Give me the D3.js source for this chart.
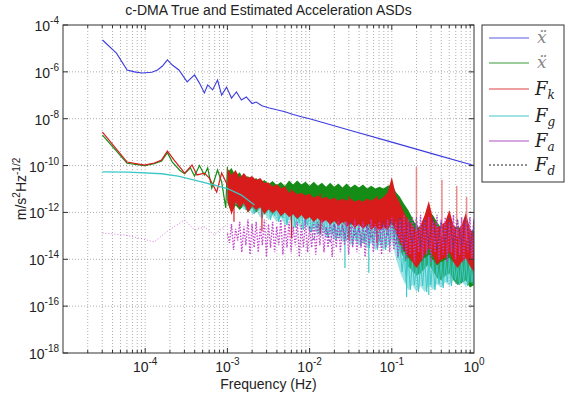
<!DOCTYPE html>
<html><head><meta charset="utf-8">
<script src="https://cdn.jsdelivr.net/npm/d3@7/dist/d3.min.js"></script>
<style>body{margin:0;background:#fff}svg{display:block}text{font-family:"Liberation Sans",Arial,sans-serif;fill:#222}</style>
</head><body><svg id="c" width="566" height="397"></svg>
<script>
// ---------- data (log10 of frequency [Hz] and log10 of ASD value) ----------
const titleText = "c-DMA True and Estimated Acceleration ASDs";
const xTickExps = [-4, -3, -2, -1, 0];
const yTickExps = [-18, -16, -14, -12, -10, -8, -6, -4];
const legendNames = ["xdd", "xddhat", "k", "g", "a", "d"];

// true acceleration (blue)
const blueF = [-4.52,-4.35,-4.22,-4.13,-4.04,-3.92,-3.85,-3.79,-3.73,-3.67,-3.59,-3.49,-3.40,-3.34,-3.28,-3.24,-3.18,-3.12,-3.07,-3.01,-2.95,-2.89,-2.83,-2.77,-2.70,-2.65,-2.58,-2.49,-2.40,-2.30,-2.2,-2.1,-2.0,-1.5,-1.0,-0.5,0];
const blueV = [-4.64,-5.20,-5.92,-6.00,-6.05,-6.02,-5.92,-5.75,-5.49,-5.71,-5.92,-6.43,-6.13,-6.48,-6.90,-6.56,-6.77,-6.35,-6.99,-6.65,-7.12,-6.86,-7.20,-7.07,-7.35,-7.29,-7.45,-7.54,-7.62,-7.70,-7.82,-7.92,-8.0,-8.5,-9.0,-9.5,-10.0];

// low-frequency parts
const greenEF = [-4.52,-4.22,-4.01,-3.89,-3.80,-3.73,-3.67,-3.58,-3.52,-3.45,-3.40,-3.34,-3.28,-3.24,-3.19,-3.12,-3.07,-3.02,-3.00];
const greenEV = [-8.70,-9.90,-10.0,-9.92,-9.80,-9.45,-9.85,-10.2,-10.35,-10.1,-10.45,-10.0,-10.4,-10.10,-10.96,-10.19,-10.7,-11.81,-10.06];
const redEF = [-4.52,-4.22,-4.01,-3.89,-3.80,-3.73,-3.65,-3.52,-3.43,-3.37,-3.28,-3.22,-3.13,-3.07,-3.00];
const redEV = [-8.57,-9.85,-9.98,-9.89,-9.76,-9.38,-9.76,-10.32,-9.98,-10.40,-10.32,-10.53,-11.13,-10.32,-10.83];
const cyanEF = [-4.52,-4.2,-3.8,-3.6,-3.4,-3.16,-3.0,-2.83,-2.67];
const cyanEV = [-10.27,-10.28,-10.35,-10.45,-10.62,-10.83,-10.98,-11.26,-11.68];
const magEF = [-4.52,-4.26,-4.07,-3.89,-3.71,-3.52,-3.40,-3.28,-3.16,-3.00];
const magEV = [-12.88,-12.96,-13.1,-13.26,-12.75,-12.32,-12.75,-12.62,-12.96,-12.5];

// noisy high-frequency parts: upper / lower envelopes on a common frequency grid
const bandF = [-3.00,-2.95,-2.90,-2.85,-2.80,-2.75,-2.70,-2.65,-2.60,-2.55,-2.50,-2.45,-2.40,-2.35,-2.30,-2.25,-2.20,-2.15,-2.10,-2.05,-2.00,-1.95,-1.90,-1.85,-1.80,-1.75,-1.70,-1.65,-1.60,-1.55,-1.50,-1.45,-1.40,-1.35,-1.30,-1.25,-1.20,-1.15,-1.10,-1.05,-1.00,-0.95,-0.90,-0.85,-0.80,-0.75,-0.70,-0.65,-0.60,-0.55,-0.50,-0.45,-0.40,-0.35,-0.30,-0.25,-0.20,-0.15,-0.10,-0.05,0.00];
const greenHi = [-10.28,-10.10,-10.44,-10.28,-10.62,-10.44,-10.66,-10.53,-10.74,-10.62,-10.79,-10.66,-10.83,-10.70,-10.87,-10.64,-10.81,-10.64,-10.81,-10.69,-10.86,-10.69,-10.86,-10.73,-10.90,-10.73,-10.90,-10.77,-10.94,-10.77,-10.94,-10.81,-10.94,-10.81,-10.98,-10.86,-10.98,-10.90,-10.98,-10.86,-10.83,-11.13,-11.34,-11.64,-11.90,-12.24,-12.58,-12.66,-12.41,-12.00,-12.11,-12.41,-12.66,-12.54,-12.41,-12.66,-12.58,-12.75,-12.66,-12.84,-12.75];
const greenLo = [-11.6,-12.0,-11.7,-11.9,-11.7,-12.0,-11.8,-12.0,-11.8,-12.1,-11.9,-12.1,-11.9,-12.2,-12.0,-12.2,-12.1,-12.3,-12.1,-12.3,-12.2,-12.4,-12.2,-12.4,-12.3,-12.5,-12.3,-12.5,-12.4,-12.6,-12.4,-12.6,-12.5,-12.7,-12.5,-12.7,-12.6,-12.7,-12.6,-12.7,-12.5,-13.0,-13.6,-14.0,-14.3,-14.5,-14.7,-14.6,-14.4,-14.2,-14.5,-14.8,-14.9,-14.7,-14.6,-14.9,-15.1,-15.0,-14.9,-15.2,-15.1];
const redHi = [-10.10,-10.40,-10.19,-10.53,-10.32,-10.53,-10.44,-10.62,-10.53,-10.74,-10.72,-10.89,-10.80,-10.97,-10.89,-11.16,-11.07,-11.24,-11.16,-11.28,-11.20,-11.37,-11.28,-11.41,-11.33,-11.46,-11.37,-11.50,-11.41,-11.50,-11.41,-11.54,-11.46,-11.54,-11.41,-11.50,-11.37,-11.46,-11.33,-11.15,-10.49,-11.26,-11.60,-12.00,-12.32,-12.54,-12.84,-12.54,-12.11,-11.51,-12.24,-12.66,-12.54,-12.41,-11.90,-12.54,-12.75,-12.54,-12.02,-12.66,-12.96];
const redLo = [-11.47,-12.11,-11.55,-11.81,-11.60,-12.00,-11.73,-11.90,-11.77,-12.07,-11.85,-12.02,-11.90,-12.15,-12.00,-12.19,-12.07,-12.28,-12.11,-12.32,-12.19,-12.41,-12.24,-12.45,-12.32,-12.54,-12.37,-12.58,-12.41,-12.62,-12.45,-12.66,-12.49,-12.71,-12.54,-12.75,-12.58,-12.79,-12.62,-12.75,-12.41,-12.84,-13.26,-13.60,-13.86,-14.12,-14.37,-14.12,-13.82,-13.52,-13.86,-14.24,-14.03,-13.95,-13.69,-14.12,-14.37,-14.12,-13.95,-14.29,-14.54];
const cyanHi = [-10.96,-11.04,-11.13,-11.21,-11.30,-11.47,-11.38,-11.64,-11.47,-11.73,-11.55,-11.77,-11.60,-11.81,-11.64,-11.90,-11.73,-12.00,-11.81,-12.02,-11.90,-12.11,-12.00,-12.19,-12.07,-12.28,-12.15,-12.37,-12.24,-12.41,-12.28,-12.49,-12.37,-12.54,-12.41,-12.58,-12.41,-12.58,-12.45,-12.41,-11.60,-12.66,-13.39,-13.69,-13.95,-14.12,-14.24,-14.12,-13.95,-13.82,-14.03,-14.24,-14.12,-14.03,-13.95,-14.12,-14.24,-14.12,-13.95,-14.12,-14.24];
const cyanLo = [-11.30,-11.38,-11.68,-11.55,-11.90,-11.73,-12.07,-11.90,-12.24,-12.02,-12.32,-12.15,-12.41,-12.24,-12.54,-12.32,-12.66,-12.45,-12.75,-12.54,-12.84,-12.66,-12.96,-12.75,-13.09,-12.88,-13.18,-13.01,-13.26,-13.09,-13.39,-13.18,-13.43,-13.26,-13.52,-13.30,-13.60,-13.39,-13.60,-13.43,-13.18,-13.95,-14.54,-14.97,-15.31,-15.10,-15.40,-15.14,-15.40,-15.10,-15.31,-15.05,-15.22,-14.97,-15.14,-14.88,-15.10,-14.97,-15.14,-14.97,-15.10];
const magHi = [-12.9,-12.5,-12.7,-12.4,-12.6,-12.3,-12.5,-12.4,-12.6,-12.3,-12.5,-12.4,-12.6,-12.3,-12.5,-12.4,-12.6,-12.4,-12.5,-12.3,-12.6,-12.4,-12.5,-12.3,-12.6,-12.4,-12.5,-12.3,-12.5,-12.4,-12.6,-12.3,-12.5,-12.4,-12.6,-12.3,-12.5,-12.4,-12.5,-12.3,-12.2,-12.4,-12.3,-12.1,-12.3,-12.2,-12.4,-12.1,-12.3,-12.2,-12.4,-12.1,-12.3,-12.2,-12.4,-12.1,-12.3,-12.2,-12.4,-12.2,-12.3];
const magLo = [-13.3,-13.6,-13.2,-13.7,-13.4,-13.8,-13.5,-13.7,-13.4,-13.9,-13.5,-13.7,-13.4,-13.8,-13.5,-13.7,-13.4,-13.9,-13.5,-13.7,-13.5,-13.8,-13.4,-13.7,-13.5,-13.9,-13.5,-13.7,-13.4,-13.8,-13.5,-13.7,-13.5,-13.9,-13.4,-13.7,-13.5,-13.8,-13.5,-13.7,-13.6,-13.9,-13.7,-14.0,-13.8,-14.1,-13.7,-14.0,-13.8,-14.1,-13.7,-14.0,-13.8,-14.1,-13.7,-14.0,-13.8,-14.1,-13.7,-14.0,-13.8];
const fdF = [-2.0,-1.9,-1.8,-1.7,-1.6,-1.5,-1.4,-1.3,-1.2,-1.1,-1.0,-0.9,-0.8,-0.7,-0.6,-0.5,-0.4,-0.3,-0.2,-0.1,0.0];
const fdHi = [-12.6,-12.4,-12.7,-12.5,-12.6,-12.4,-12.7,-12.5,-12.6,-12.4,-12.3,-12.2,-12.4,-12.2,-12.3,-12.2,-12.4,-12.2,-12.3,-12.2,-12.3];
const fdLo = [-13.2,-13.0,-13.3,-13.1,-13.2,-13.0,-13.3,-13.1,-13.2,-13.0,-13.4,-13.6,-13.3,-13.5,-13.4,-13.6,-13.3,-13.5,-13.4,-13.6,-13.4];

// isolated spikes
const redDipF = [-2.92,-2.58,-2.22,-1.87,-1.52,-1.18];
const redDipTop = [-10.5,-10.8,-11.0,-11.2,-11.3,-11.3];
const redDipBot = [-12.4,-12.8,-13.1,-12.9,-13.2,-13.3];
const redHarmF = [-0.70,-0.39,-0.21,-0.09];
const redHarmTop = [-10.06,-10.62,-10.87,-11.34];
const redHarmBot = [-12.8,-13.0,-13.0,-13.2];
const cyanDipF = [-1.57,-1.28,-0.82,-0.55];
const cyanDipTop = [-12.4,-12.5,-14.0,-14.0];
const cyanDipBot = [-14.37,-14.58,-15.61,-15.52];

// ---------- drawing ----------
const P = v => Math.pow(10, v);
const L = 63, R = 474, T = 25, B = 353;
const svg = d3.select("#c");
const x = d3.scaleLog().domain([1e-5, 1]).range([L, R]);
const y = d3.scaleLog().domain([1e-18, 1e-4]).range([B, T]);

const col = {blue:"#3c3ce0", green:"#158c15", red:"#d81c1c", cyan:"#3cc8c8", mag:"#c040c8"};

svg.append("defs").append("clipPath").attr("id","clip")
  .append("rect").attr("x",L).attr("y",T).attr("width",R-L).attr("height",B-T);

// grid
const minorX = [];
for (let d = -5; d < 0; d++) for (let k = 1; k <= 9; k++) minorX.push(k * Math.pow(10, d));
minorX.push(1);
const grid = svg.append("g");
grid.selectAll("line.gx").data(minorX.filter(v => v > 1.0001e-5 && v < 0.9999)).join("line")
  .attr("x1", d => x(d)).attr("x2", d => x(d)).attr("y1", T).attr("y2", B)
  .attr("stroke", "#9a9a9a").attr("stroke-width", 0.8).attr("stroke-dasharray", "1,2");
grid.selectAll("line.gy").data(yTickExps.slice(1, -1)).join("line")
  .attr("x1", L).attr("x2", R).attr("y1", d => y(P(d))).attr("y2", d => y(P(d)))
  .attr("stroke", "#9a9a9a").attr("stroke-width", 0.8).attr("stroke-dasharray", "1,2");

const plot = svg.append("g").attr("clip-path", "url(#clip)");
const line = d3.line().x(d => x(P(d[0]))).y(d => y(P(d[1])));
const pairs = (F, V) => F.map((f, i) => [f, V[i]]);
const band = (hi, lo) => bandF.map((f, i) => ({f, hi: hi[i], lo: lo[i]}));
const area = d3.area().x(d => x(P(d.f))).y0(d => y(P(d.lo))).y1(d => y(P(d.hi)));
const zig = (F, hi, lo) => {
  const pts = [];
  F.forEach((f, i) => {
    pts.push([f, hi[i]]);
    pts.push([i < F.length - 1 ? (f + F[i + 1]) / 2 : f, lo[i]]);
  });
  return pts;
};
const spikes = (g, F, top, bot, color, w, op) => {
  g.selectAll(null).data(F.map((f, i) => [f, top[i], bot[i]])).join("line")
    .attr("x1", d => x(P(d[0]))).attr("x2", d => x(P(d[0])))
    .attr("y1", d => y(P(d[1]))).attr("y2", d => y(P(d[2])))
    .attr("stroke", color).attr("stroke-width", w).attr("opacity", op);
};

// blue (true acceleration)
plot.append("path").attr("d", line(pairs(blueF, blueV))).attr("fill", "none")
  .attr("stroke", col.blue).attr("stroke-width", 1.1);

// green (estimated)
plot.append("path").attr("d", area(band(greenHi, greenLo))).attr("fill", col.green);
plot.append("path").attr("d", line(pairs(greenEF, greenEV))).attr("fill", "none")
  .attr("stroke", col.green).attr("stroke-width", 1.2);

// cyan band (under red)
plot.append("path").attr("d", area(band(cyanHi, cyanLo))).attr("fill", col.cyan).attr("opacity", 0.5);
plot.append("path").attr("d", line(zig(bandF, cyanHi, cyanLo))).attr("fill", "none")
  .attr("stroke", col.cyan).attr("stroke-width", 1);

// red F_k
plot.append("path").attr("d", area(band(redHi, redLo))).attr("fill", col.red);
plot.append("path").attr("d", line(pairs(redEF, redEV))).attr("fill", "none")
  .attr("stroke", col.red).attr("stroke-width", 1.2);
spikes(plot, redDipF, redDipTop, redDipBot, col.red, 1.2, 1);
spikes(plot, redHarmF, redHarmTop, redHarmBot, "#e86060", 1.5, 0.7);

// cyan F_g on top
plot.append("path").attr("d", line(pairs(cyanEF, cyanEV))).attr("fill", "none")
  .attr("stroke", col.cyan).attr("stroke-width", 1.3);
spikes(plot, cyanDipF, cyanDipTop, cyanDipBot, col.cyan, 1.2, 1);

// magenta F_a
plot.append("path").attr("d", line(pairs(magEF, magEV))).attr("fill", "none")
  .attr("stroke", col.mag).attr("stroke-width", 1).attr("stroke-dasharray", "1,2").attr("opacity", 0.7);
plot.append("path").attr("d", line(zig(bandF, magHi, magLo))).attr("fill", "none")
  .attr("stroke", col.mag).attr("stroke-width", 1.4).attr("stroke-dasharray", "1.5,1.5").attr("opacity", 0.95);

// F_d
plot.append("path").attr("d", line(zig(fdF, fdHi, fdLo))).attr("fill", "none")
  .attr("stroke", "#4a3a9a").attr("stroke-width", 1).attr("stroke-dasharray", "2,2").attr("opacity", 0.75);

// axes frame and ticks
const ax = svg.append("g").attr("stroke", "#333").attr("stroke-width", 1);
ax.append("rect").attr("x", L).attr("y", T).attr("width", R - L).attr("height", B - T).attr("fill", "none");
const majorX = xTickExps.map(P);
minorX.filter(v => v > 1.0001e-5 && v < 0.9999).forEach(v => {
  const isMaj = majorX.some(m => Math.abs(m - v) / v < 1e-6);
  const len = isMaj ? 5 : 3;
  ax.append("line").attr("x1", x(v)).attr("x2", x(v)).attr("y1", B).attr("y2", B - len);
  ax.append("line").attr("x1", x(v)).attr("x2", x(v)).attr("y1", T).attr("y2", T + len);
});
yTickExps.forEach(e => {
  ax.append("line").attr("x1", L).attr("x2", L + 5).attr("y1", y(P(e))).attr("y2", y(P(e)));
  ax.append("line").attr("x1", R).attr("x2", R - 5).attr("y1", y(P(e))).attr("y2", y(P(e)));
});

// tick labels
xTickExps.forEach(e => {
  const t = svg.append("text").attr("x", x(P(e))).attr("y", 372).attr("text-anchor", "middle").attr("font-size", 14);
  t.append("tspan").text("10");
  t.append("tspan").attr("dy", -7).attr("font-size", 10).text(e);
});
yTickExps.forEach(e => {
  const t = svg.append("text").attr("x", 59).attr("y", y(P(e)) + 6).attr("text-anchor", "end").attr("font-size", 14);
  t.append("tspan").text("10");
  t.append("tspan").attr("dy", -7).attr("font-size", 10).text(e);
});

// title and axis labels
svg.append("text").attr("x", (L + R) / 2).attr("y", 15).attr("text-anchor", "middle").attr("font-size", 14).text(titleText);
svg.append("text").attr("x", (L + R) / 2).attr("y", 389).attr("text-anchor", "middle").attr("font-size", 14).text("Frequency (Hz)");
const yl = svg.append("text").attr("transform", `translate(26,${(T + B) / 2}) rotate(-90)`).attr("text-anchor", "middle").attr("font-size", 14);
yl.append("tspan").text("m/s");
yl.append("tspan").attr("dy", -6).attr("font-size", 10).text("2");
yl.append("tspan").attr("dy", 6).text("Hz");
yl.append("tspan").attr("dy", -6).attr("font-size", 10).text("-1/2");

// legend
const lg = svg.append("g");
lg.append("rect").attr("x", 482).attr("y", 25).attr("width", 82).attr("height", 157)
  .attr("fill", "#fff").attr("stroke", "#333").attr("stroke-width", 1);
const rowY = [38, 63, 89, 116, 141, 165];
const rowCol = ["#5a5ae6", "#3a9a3a", "#e04040", "#40c8c8", "#b050c0", "#222"];
const sf = "font-family:'DejaVu Serif','Liberation Serif',serif;font-style:italic";
legendNames.forEach((n, i) => {
  lg.append("line").attr("x1", 489).attr("x2", 529).attr("y1", rowY[i]).attr("y2", rowY[i])
    .attr("stroke", rowCol[i]).attr("stroke-width", 1.2)
    .attr("stroke-dasharray", n === "d" ? "2,2" : null);
  if (n === "xdd" || n === "xddhat") {
    lg.append("text").attr("x", 537).attr("y", rowY[i] + 5).attr("style", sf)
      .attr("font-size", 17).style("fill", "#888").text("\u1E8D");
  } else {
    const t = lg.append("text").attr("x", 535).attr("y", rowY[i] + 6).attr("style", sf).attr("font-size", 18);
    t.append("tspan").text("F");
    t.append("tspan").attr("dy", 4).attr("font-size", 12).text(n);
  }
});
</script></body></html>
